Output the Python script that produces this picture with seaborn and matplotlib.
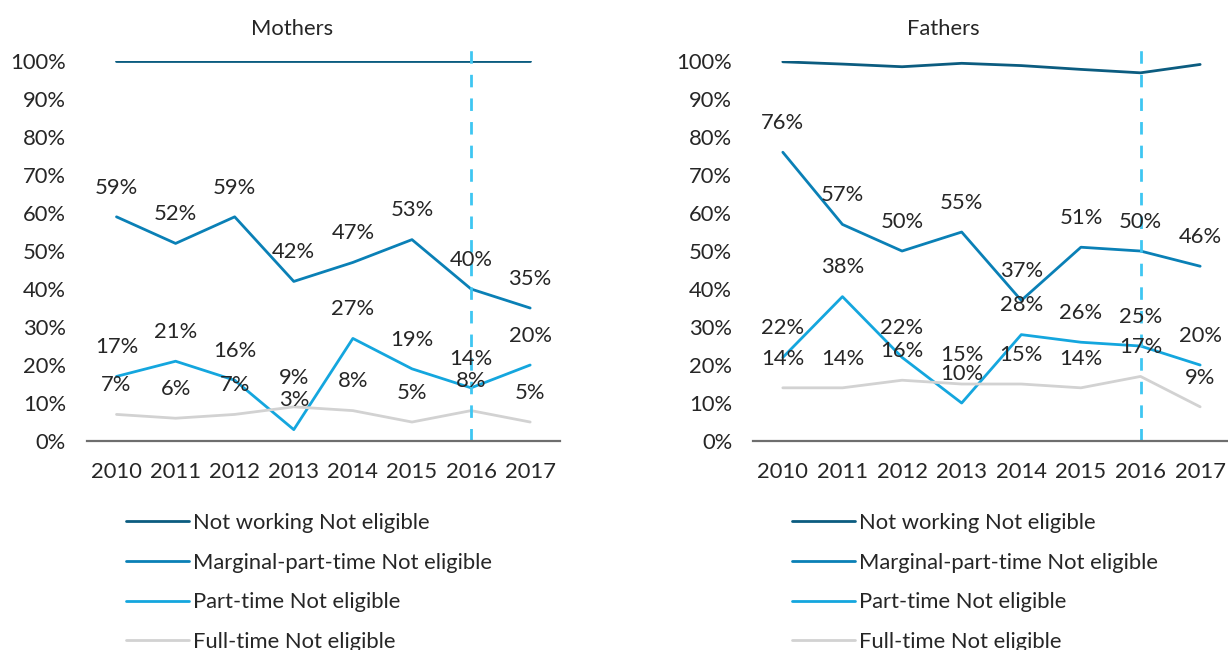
import numpy as np
import pandas as pd
import seaborn as sns
import matplotlib.pyplot as plt

# data (percent)
years = [2010, 2011, 2012, 2013, 2014, 2015, 2016, 2017]
series_names = ["Not working Not eligible", "Marginal-part-time Not eligible",
                "Part-time Not eligible", "Full-time Not eligible"]

mothers_not_working = [100, 100, 100, 100, 100, 100, 100, 100]
mothers_marginal = [59, 52, 59, 42, 47, 53, 40, 35]
mothers_part_time = [17, 21, 16, 3, 27, 19, 14, 20]
mothers_full_time = [7, 6, 7, 9, 8, 5, 8, 5]

fathers_not_working = [99.8, 99.2, 98.5, 99.4, 98.8, 97.8, 96.9, 99.1]
fathers_marginal = [76, 57, 50, 55, 37, 51, 50, 46]
fathers_part_time = [22, 38, 22, 10, 28, 26, 25, 20]
fathers_full_time = [14, 14, 16, 15, 15, 14, 17, 9]

colors = ["#0b5c80", "#0a80b6", "#14a6de", "#d2d2d2"]
labelled = [False, True, True, True]
marker_year = 2016
text_color = "#262626"


def long_frame(cols):
    rows = []
    for name, vals in zip(series_names, cols):
        for y, v in zip(years, vals):
            rows.append({"year": y, "value": v, "series": name})
    return pd.DataFrame(rows)


mothers = long_frame([mothers_not_working, mothers_marginal, mothers_part_time, mothers_full_time])
fathers = long_frame([fathers_not_working, fathers_marginal, fathers_part_time, fathers_full_time])

sns.set_theme(style="white")
plt.rcParams['font.family'] = ['Lato', 'DejaVu Sans']
FS = 15.8

fig = plt.figure(figsize=(12.28, 6.5), dpi=100)
ax_m = fig.add_axes([0.0708, 0.3215, 0.385, 0.5846])
ax_f = fig.add_axes([0.6132, 0.3215, 0.3884, 0.5846])

for ax, df, title, tx, leg_x in [(ax_m, mothers, "Mothers", 0.238, 0.103),
                                 (ax_f, fathers, "Fathers", 0.768, 0.645)]:
    sns.lineplot(data=df, x="year", y="value", hue="series", hue_order=series_names,
                 palette=colors, linewidth=2.0, ax=ax, legend=False)
    ax.axvline(marker_year, ymin=0, ymax=1.035, color="#3ec6f2", linewidth=2.0,
               dashes=(4.5, 4), clip_on=False)
    # data labels
    for name, show in zip(series_names, labelled):
        if not show:
            continue
        sub = df[df["series"] == name]
        for y, v in zip(sub["year"], sub["value"]):
            ax.annotate(f"{v:.0f}%", (y, v), xytext=(0, 21), textcoords="offset points",
                        ha="center", va="center", fontsize=FS, color=text_color)
    ax.set_xlim(2009.5, 2017.5)
    ax.set_ylim(0, 100)
    ax.set_xticks(years)
    ax.set_xticklabels([str(y) for y in years])
    ax.set_yticks(range(0, 101, 10))
    ax.set_yticklabels([f"{t}%" for t in range(0, 101, 10)])
    ax.tick_params(axis="both", length=0, labelsize=FS, colors=text_color)
    ax.tick_params(axis="y", pad=15)
    ax.tick_params(axis="x", pad=15)
    ax.set_xlabel("")
    ax.set_ylabel("")
    for s in ["left", "right", "top"]:
        ax.spines[s].set_visible(False)
    ax.spines["bottom"].set_color("#6e6e6e")
    ax.spines["bottom"].set_linewidth(1.6)
    fig.text(tx, 0.956, title, ha="center", va="center", fontsize=FS, color=text_color)
    handles = [plt.Line2D([], [], color=c, linewidth=2.0) for c in colors]
    ax.legend(handles, series_names, loc="upper left", bbox_to_anchor=(leg_x, 0.211),
              bbox_transform=fig.transFigure, frameon=False, fontsize=FS,
              handlelength=2.85, handletextpad=0.2, labelspacing=0.9,
              labelcolor=text_color, borderaxespad=0, borderpad=0)

fig.savefig("out.png", dpi=100)
